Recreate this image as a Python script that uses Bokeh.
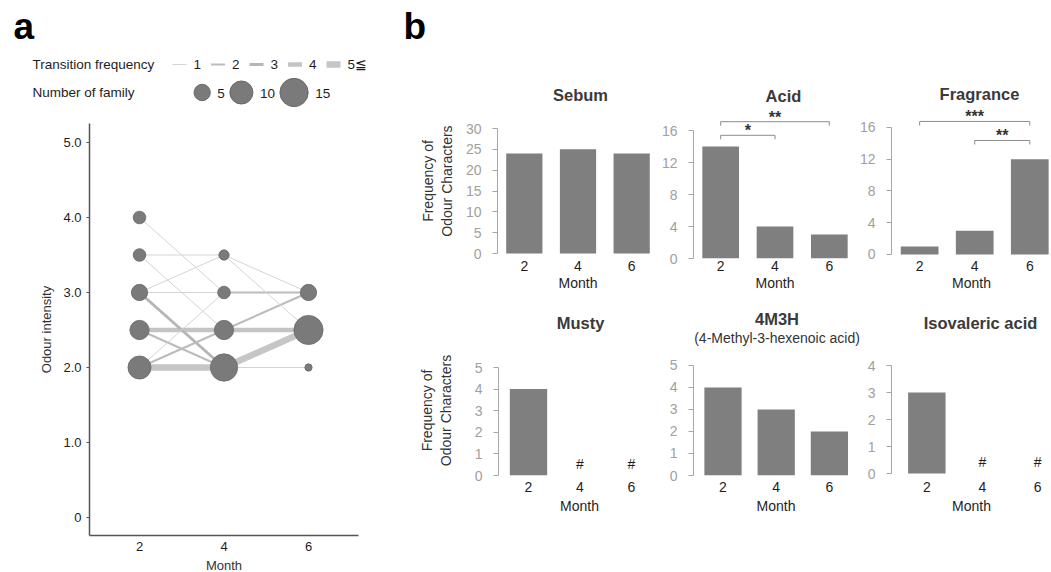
import math
from bokeh.plotting import figure
from bokeh.layouts import row, column
from bokeh.models import Range1d, FixedTicker, Title
from bokeh.core.properties import value
from bokeh.embed import file_html
from bokeh.resources import INLINE

FONT = "Liberation Sans"
DARK = "#1e1e1e"

# ---------------- Panel a data ----------------
months = [2, 4, 6]
node_month = [2, 2, 2, 2, 2, 4, 4, 4, 4, 6, 6, 6]
node_intensity = [4.0, 3.5, 3.0, 2.5, 2.0, 3.5, 3.0, 2.5, 2.0, 3.0, 2.5, 2.0]
node_family = [3, 3, 5, 7, 10, 2, 3, 7, 14, 5, 16, 1]

tr_from_month = [2] * 11 + [4] * 7
tr_to_month = [4] * 11 + [6] * 7
tr_from_int = [4.0, 3.5, 3.5, 3.0, 3.0, 3.0, 2.5, 2.5, 2.0, 2.0, 2.0,
               3.5, 3.5, 3.0, 2.5, 2.5, 2.0, 2.0]
tr_to_int = [3.0, 3.5, 2.5, 3.5, 3.0, 2.0, 2.5, 2.0, 3.0, 2.5, 2.0,
             3.0, 2.5, 3.0, 3.0, 2.5, 2.5, 2.0]
tr_freq = [1, 1, 1, 1, 1, 3, 4, 2, 1, 2, 5,
           1, 1, 2, 2, 4, 5, 1]

freq_levels = [1, 2, 3, 4, 5]
freq_labels = ["1", "2", "3", "4", "5\u2266"]
family_legend = [5, 10, 15]

intensity_ticks = [0, 1, 2, 3, 4, 5]
intensity_labels = ["0", "1.0", "2.0", "3.0", "4.0", "5.0"]

# ---------------- Panel b data ----------------
sebum = [24, 25, 24]
acid = [14, 4, 3]
fragrance = [1, 3, 12]
musty = [4, 0, 0]
m4m3h = [4, 3, 2]
isovaleric = [3, 0, 0]
acid_pairs = [(2, 4, "*"), (2, 6, "**")]
fragrance_pairs = [(2, 6, "***"), (4, 6, "**")]

# ---------------- styles ----------------
FREQ_WIDTH = {1: 1.0, 2: 2.0, 3: 3.0, 4: 4.5, 5: 6.5}
FREQ_COLOR = {1: "#d4d4d4", 2: "#bcbcbc", 3: "#b6b6b6", 4: "#c4c4c4", 5: "#c6c6c6"}
NODE_COLOR = "#7a7a7a"
BAR_COLOR = "#7f7f7f"

BOLD_W = {"S": .667, "e": .556, "b": .611, "u": .611, "m": .889, "A": .722, "c": .556,
          "i": .278, "d": .611, "F": .611, "r": .389, "a": .556, "g": .611, "n": .611,
          "M": .833, "s": .556, "t": .333, "y": .556, "4": .556, "3": .556, "H": .722,
          "I": .278, "o": .611, "v": .556, "l": .278, " ": .278}


def text_w(s, size):
    return sum(BOLD_W.get(ch, .6) for ch in s) * size


def fam_size(n):
    return 7.3 * math.sqrt(n)


def clean(p):
    p.outline_line_color = None
    p.background_fill_color = "white"
    p.border_fill_color = "white"
    for g in (p.xgrid, p.ygrid):
        for gg in g:
            gg.visible = False


# ---------------- panel a (one figure, legend drawn in pixel range) ----------------
PX_A = 42.25   # pixels per month
PY_A = 75.0    # pixels per intensity unit
X2_A, Y0_A = 139, 517  # pixel of month 2, intensity 0
WA, HA = 380, 572
pa = figure(width=WA, height=HA, title=None,
            x_range=Range1d(2 - X2_A / PX_A, 2 + (WA - X2_A) / PX_A),
            y_range=Range1d(-(HA - Y0_A) / PY_A, Y0_A / PY_A),
            min_border=0, output_backend="svg", toolbar_location=None)
clean(pa)
pa.extra_x_ranges = {"px": Range1d(0, WA)}
pa.extra_y_ranges = {"px": Range1d(HA, 0)}
x_axis_at = 2 - (X2_A - 89) / PX_A
y_axis_at = -(535 - Y0_A) / PY_A
x_end = 2 + (358 - X2_A) / PX_A
y_end = (Y0_A - 123) / PY_A

order = sorted(range(len(tr_freq)), key=lambda i: -tr_freq[i])
pa.segment(x0=[tr_from_month[i] for i in order], y0=[tr_from_int[i] for i in order],
           x1=[tr_to_month[i] for i in order], y1=[tr_to_int[i] for i in order],
           line_width=[FREQ_WIDTH[min(tr_freq[i], 5)] for i in order],
           line_color=[FREQ_COLOR[min(tr_freq[i], 5)] for i in order])
pa.scatter(x=node_month, y=node_intensity, size=[fam_size(n) for n in node_family],
           fill_color=NODE_COLOR, line_color="#6a6a6a", line_width=0.8)

for ax in (pa.xaxis[0], pa.yaxis[0]):
    ax.axis_line_color = "#555555"
    ax.axis_line_width = 1.5
    ax.major_label_text_font = FONT
    ax.major_label_text_font_size = "13px"
    ax.major_label_text_color = DARK
    ax.axis_label_text_font = FONT
    ax.axis_label_text_font_size = "13px"
    ax.axis_label_text_font_style = "normal"
    ax.axis_label_text_color = "#333333"
    ax.minor_tick_line_color = None
xa = pa.xaxis[0]
xa.fixed_location = y_axis_at
xa.bounds = (x_axis_at, x_end)
xa.ticker = FixedTicker(ticks=months)
xa.major_tick_out = 0
xa.major_tick_in = 0
xa.major_tick_line_color = None
xa.major_label_standoff = 6
xa.axis_label = "Month"
xa.axis_label_standoff = 4
ya = pa.yaxis[0]
ya.fixed_location = x_axis_at
ya.bounds = (y_axis_at, y_end)
ya.ticker = FixedTicker(ticks=intensity_ticks)
ya.major_label_overrides = dict(zip(intensity_ticks, intensity_labels))
ya.major_tick_out = 3
ya.major_tick_in = 0
ya.major_tick_line_color = "#555555"
ya.major_label_standoff = 5
ya.axis_label = "Odour intensity"
ya.axis_label_standoff = 6

# legend + panel letter, in pixel coordinates
pk = dict(x_range_name="px", y_range_name="px")
pa.text(x=[13], y=[26], text=["a"], text_font=value(FONT), text_font_size="37px",
        text_font_style="bold", text_baseline="middle", text_color="black", **pk)
pa.text(x=[32, 32], y=[64, 92], text=["Transition frequency", "Number of family"],
        text_font=value(FONT), text_font_size="13.5px", text_baseline="middle",
        text_color=DARK, **pk)
x0s = [172 + 38.5 * i for i in range(len(freq_levels))]
x1s = [x + 14 for x in x0s]
pa.segment(x0=x0s, y0=[64] * 5, x1=x1s, y1=[64] * 5,
           line_width=[FREQ_WIDTH[f] for f in freq_levels],
           line_color=[FREQ_COLOR[f] for f in freq_levels], **pk)
pa.text(x=[x + 7 for x in x1s], y=[64] * 5, text=freq_labels, text_font=value(FONT),
        text_font_size="13.5px", text_baseline="middle", text_color=DARK, **pk)
cx, tx, cur = [], [], 193.5
for n in family_legend:
    d = fam_size(n)
    cx.append(cur + d / 2)
    tx.append(cur + d + 7)
    cur = cur + d + 7 + len(str(n)) * 7.5 + 5
pa.scatter(x=cx, y=[92] * 3, size=[fam_size(n) for n in family_legend],
           fill_color=NODE_COLOR, line_color="#6a6a6a", **pk)
pa.text(x=tx, y=[93] * 3, text=[str(n) for n in family_legend], text_font=value(FONT),
        text_font_size="13.5px", text_baseline="middle", text_color=DARK, **pk)

# ---------------- panel b header ----------------
WB = 1051 - WA
HEAD = 50
head = figure(width=WB, height=HEAD, title=None, x_range=Range1d(WA, 1051),
              y_range=Range1d(HEAD, 0), x_axis_type=None, y_axis_type=None, min_border=0,
              output_backend="svg", toolbar_location=None)
clean(head)
head.text(x=[403], y=[26], text=["b"], text_font=value(FONT), text_font_size="37px",
          text_font_style="bold", text_baseline="middle", text_color="black")


def bar_fig(title, vals, width, height, left, top, bottom, xr, yr, y_bound, y_step,
            bar_w, x_std, xl_std, t_std, t_dx=0, ylabel=None, yl_std=10, subtitle=None,
            pairs=None, levels=None, right=0):
    p = figure(width=width, height=height, x_range=Range1d(*xr), y_range=Range1d(*yr),
               min_border_left=left, min_border_right=right, min_border_top=top,
               min_border_bottom=bottom, output_backend="svg", toolbar_location=None)
    clean(p)
    frame_w = width - left - right
    frame_h = height - top - bottom
    ppu = frame_h / (yr[1] - yr[0])
    p.vbar(x=months, top=vals, width=bar_w, fill_color=BAR_COLOR, line_color=None)
    zeros = [m for m, v in zip(months, vals) if v == 0]
    if zeros:
        p.text(x=zeros, y=[12 / ppu] * len(zeros), text=["#"] * len(zeros),
               text_font=value(FONT), text_font_size="14px", text_align="center",
               text_baseline="middle", text_color=DARK)
    if pairs:
        tick = 4 / ppu
        xs, ys, tx_, ty_, tt = [], [], [], [], []
        for (a, b, lab), lvl in zip(pairs, levels):
            xs.append([a, a, b, b])
            ys.append([lvl - tick, lvl, lvl, lvl - tick])
            tx_.append((a + b) / 2)
            ty_.append(lvl + 4.5 / ppu)
            tt.append(lab)
        p.multi_line(xs, ys, line_color="#8c8c8c", line_width=1)
        p.text(x=tx_, y=ty_, text=tt, text_font=value(FONT), text_font_size="16px",
               text_font_style="bold", text_align="center", text_baseline="middle",
               text_color="#333333")
    if subtitle:
        sw = len(subtitle) * 0.455 * 14
        p.add_layout(Title(text=subtitle, align="left", text_font=FONT,
                           text_font_size="14px", text_font_style="normal",
                           text_color="#333333", standoff=0,
                           offset=frame_w / 2 + t_dx - sw / 2), "above")
    tw = text_w(title, 16.5)
    p.add_layout(Title(text=title, align="left", text_font=FONT, text_font_size="16.5px",
                       text_font_style="bold", text_color="#3a3a3a", standoff=t_std,
                       offset=frame_w / 2 + t_dx - tw / 2), "above")
    xa, ya = p.xaxis[0], p.yaxis[0]
    xa.ticker = FixedTicker(ticks=months)
    xa.axis_line_color = None
    xa.major_tick_line_color = None
    xa.minor_tick_line_color = None
    xa.major_tick_out = 0
    xa.major_tick_in = 0
    xa.major_label_standoff = x_std
    xa.major_label_text_font = FONT
    xa.major_label_text_font_size = "14px"
    xa.major_label_text_color = DARK
    xa.axis_label = "Month"
    xa.axis_label_standoff = xl_std
    xa.axis_label_text_font = FONT
    xa.axis_label_text_font_size = "14px"
    xa.axis_label_text_font_style = "normal"
    xa.axis_label_text_color = DARK
    ya.ticker = FixedTicker(ticks=list(range(0, y_bound + 1, y_step)))
    ya.bounds = (0, y_bound)
    ya.axis_line_color = "#a6a6a6"
    ya.major_tick_line_color = "#a6a6a6"
    ya.minor_tick_line_color = None
    ya.major_tick_out = 5
    ya.major_tick_in = 0
    ya.major_label_standoff = 11
    ya.major_label_text_font = FONT
    ya.major_label_text_font_size = "14px"
    ya.major_label_text_color = "#a0a0a0"
    if ylabel:
        ya.axis_label = ylabel
        ya.axis_label_standoff = yl_std
        ya.axis_label_text_font = FONT
        ya.axis_label_text_font_size = "14px"
        ya.axis_label_text_font_style = "normal"
        ya.axis_label_text_color = "#333333"
    return p


YL = "Frequency of\nOdour Characters"
# top row: frame from y=103 to y=258
f_sebum = bar_fig("Sebum", sebum, 278, 248, 117, 53, 40, (1.0, 7.0), (-1.2, 36.0), 30, 5, 1.35,
                  2, 1, -1, 2.5, ylabel=YL, yl_std=8)
f_acid = bar_fig("Acid", acid, 198, 248, 32, 53, 40, (1.0, 7.0), (0, 19.375), 16, 4, 1.35,
                 2, 1, -3, 7, pairs=acid_pairs, levels=[15.4, 17.1])
f_frag = bar_fig("Fragrance", fragrance, 195, 248, 33, 53, 40, (0.978, 6.789), (-0.504, 19.02),
                 16, 4, 1.37, 2, 1, 1, 7, pairs=fragrance_pairs, levels=[16.76, 14.36])
# bottom row: frame from y=345 to y=475
f_musty = bar_fig("Musty", musty, 280, 274, 118, 47, 97, (0.835, 7.127), (0, 6.02), 5, 1, 1.45,
                  6, 3, 27, 1, ylabel=YL, yl_std=18)
f_4m3h = bar_fig("4M3H", m4m3h, 204, 274, 33, 47, 97, (0.891, 7.094), (0, 5.909), 5, 1, 1.4,
                 6, 3, 0, 1, subtitle="(4-Methyl-3-hexenoic acid)", right=6)
f_iso = bar_fig("Isovaleric acid", isovaleric, 187, 274, 24, 47, 97, (0.726, 6.496),
                (-0.074, 4.741), 4, 1, 1.35, 6, 3, 27, 7.5)

layout = row(pa, column(head, row(f_sebum, f_acid, f_frag),
                        row(f_musty, f_4m3h, f_iso)))

open("out.html", "w").write(file_html(layout, INLINE))
